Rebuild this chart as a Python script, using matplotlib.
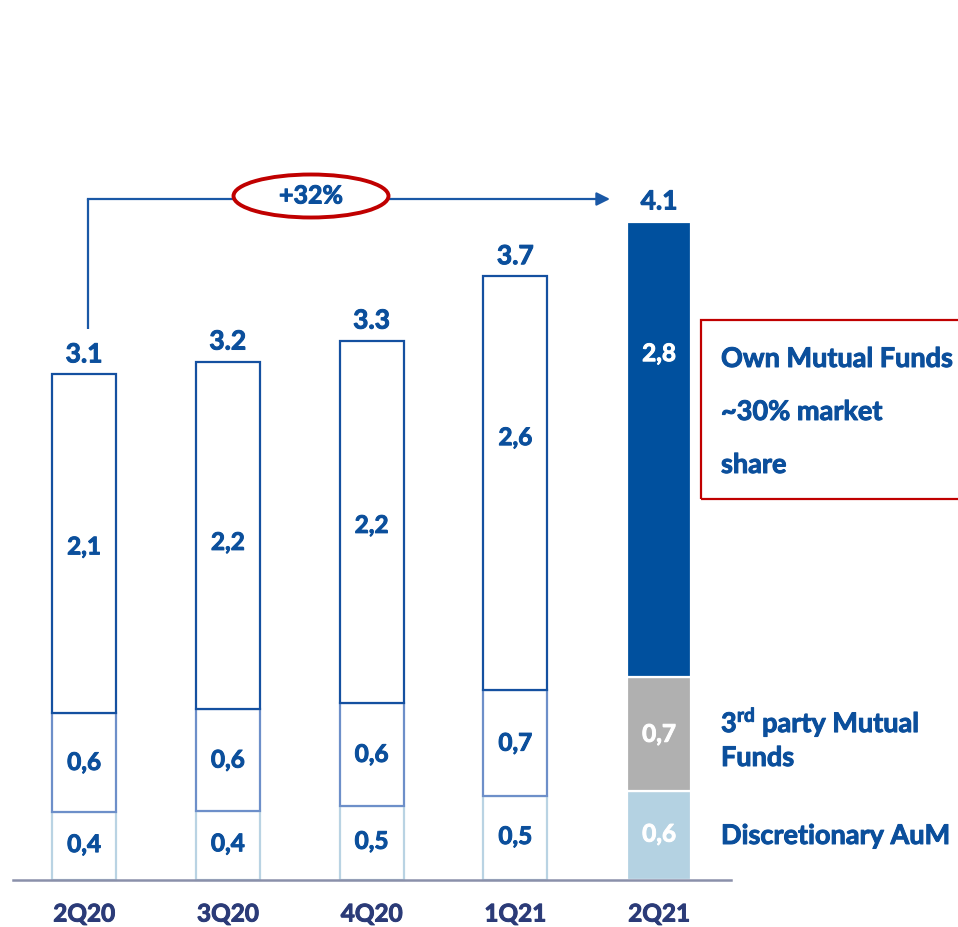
import matplotlib
matplotlib.use("Agg")
import matplotlib.pyplot as plt
import matplotlib.patheffects as pe
from matplotlib.patches import Ellipse, Rectangle

# ---- data ----
categories = ["2Q20", "3Q20", "4Q20", "1Q21", "2Q21"]
discretionary = [0.42, 0.43, 0.46, 0.52, 0.55]
third_party = [0.62, 0.63, 0.64, 0.66, 0.71]
own_funds = [2.10, 2.16, 2.25, 2.57, 2.83]
disc_labels = ["0,4", "0,4", "0,5", "0,5", "0,6"]
third_labels = ["0,6", "0,6", "0,6", "0,7", "0,7"]
own_labels = ["2,1", "2,2", "2,2", "2,6", "2,8"]
total_labels = ["3.1", "3.2", "3.3", "3.7", "4.1"]
growth_label = "+32%"

# ---- style ----
W, H, DPI = 958, 928, 100
FONT = ["Lato", "DejaVu Sans"]
BLUE = "#0b4f9c"
NAVY = "#2b3b78"
RED = "#c00000"
own_label_frac = [0.49, 0.48, 0.49, 0.61, 0.71]


def heavy(color):
    return [pe.withStroke(linewidth=0.7, foreground=color)]


fig = plt.figure(figsize=(W / DPI, H / DPI), dpi=DPI)
ax = fig.add_axes([0, 0, 1, 1])
x0_px, step_px, base_px, k_px = 84, 143.75, 881, 161.0
ax.set_xlim(-x0_px / step_px, (W - x0_px) / step_px)
ax.set_ylim(-(H - base_px) / k_px, base_px / k_px)
ax.axis("off")

x = list(range(len(categories)))
bw = 64 / step_px
n = len(categories)
last = n - 1

disc_face = ["white"] * last + ["#b4d2e2"]
third_face = ["white"] * last + ["#b0b0b0"]
own_face = ["white"] * last + ["#00509e"]
disc_edge = ["#b9d3e3"] * last + ["white"]
third_edge = ["#6d8fc9"] * last + ["white"]
own_edge = ["#1450a0"] * last + ["white"]

bottoms2 = [d + t for d, t in zip(discretionary, third_party)]
totals = [b + o for b, o in zip(bottoms2, own_funds)]

ax.bar(x, discretionary, width=bw, color=disc_face, edgecolor=disc_edge, linewidth=1.6, zorder=2)
ax.bar(x, third_party, width=bw, bottom=discretionary, color=third_face, edgecolor=third_edge,
       linewidth=1.6, zorder=3)
ax.bar(x, own_funds, width=bw, bottom=bottoms2, color=own_face, edgecolor=own_edge,
       linewidth=1.6, zorder=4)

seg_fs = 17.5
for i in x:
    col = "white" if i == last else BLUE
    for yv, lab in [(discretionary[i] / 2 + 0.01, disc_labels[i]),
                    (discretionary[i] + third_party[i] / 2, third_labels[i]),
                    (bottoms2[i] + own_funds[i] * own_label_frac[i], own_labels[i])]:
        ax.text(i, yv, lab, ha="center", va="center", fontsize=seg_fs, fontweight="bold",
                color=col, family=FONT, zorder=6, path_effects=heavy(col))
    ax.text(i, totals[i] + 0.05, total_labels[i], ha="center", va="bottom",
            fontsize=19, fontweight="bold", color=BLUE, family=FONT, zorder=6,
            path_effects=heavy(BLUE))
    ax.text(i, -(915 - base_px) / k_px, categories[i], ha="center", va="center",
            fontsize=17.5, fontweight="bold", color=NAVY, family=FONT, zorder=6,
            path_effects=heavy(NAVY))

# baseline
ax.axhline(0, xmin=13 / W, xmax=731 / W, color="#8a90aa", linewidth=1.8, zorder=5)


def dx(px):
    return (px - x0_px) / step_px


def dy(py):
    return (base_px - py) / k_px


# growth bracket
line_col = "#1a58a6"
xv = dx(88)
ytop = dy(200)
ax.plot([xv, xv], [dy(330), ytop], color=line_col, linewidth=1.6, zorder=5,
        solid_capstyle="butt")
ax.plot([xv, dx(233)], [ytop, ytop], color=line_col, linewidth=1.6, zorder=5)
ax.annotate("", xy=(dx(610), ytop), xytext=(dx(389), ytop),
            arrowprops=dict(arrowstyle="-|>", color=line_col, lw=1.6,
                            mutation_scale=20, shrinkA=0, shrinkB=0), zorder=5)
ell = Ellipse((dx(311), dy(197)), 155 / step_px, 43 / k_px, facecolor="white",
              edgecolor=RED, linewidth=2.8, zorder=6)
ax.add_patch(ell)
ax.text(dx(311), dy(197), growth_label, ha="center", va="center", fontsize=18,
        fontweight="bold", color=BLUE, family=FONT, zorder=7, path_effects=heavy(BLUE))

# annotation box
box = Rectangle((dx(701), dy(500)), dx(975) - dx(701), dy(321) - dy(500), facecolor="none",
                edgecolor=RED, linewidth=1.6, zorder=5, clip_on=False)
ax.add_patch(box)
side_fs = 19.5
side_texts = [
    (360, "Own Mutual Funds"),
    (413, "~30% market"),
    (466, "share"),
    (723, r"3$^{\mathregular{rd}}$ party Mutual"),
    (759, "Funds"),
    (837, "Discretionary AuM"),
]
for py, txt in side_texts:
    ax.text(dx(721), dy(py), txt, ha="left", va="center", fontsize=side_fs,
            fontweight="bold", color=BLUE, family=FONT, path_effects=heavy(BLUE))

fig.savefig("out.png", dpi=DPI)
